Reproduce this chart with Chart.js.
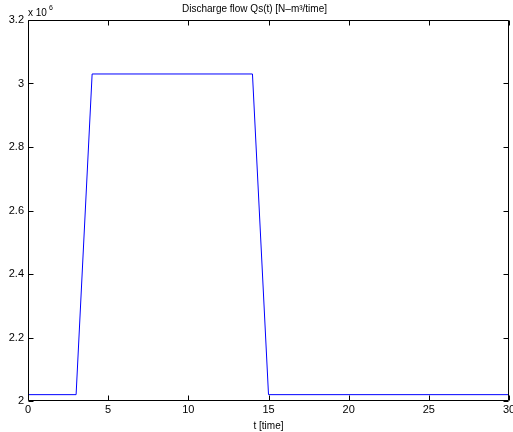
<!DOCTYPE html>
<html>
<head>
<meta charset="utf-8">
<script src="https://cdn.jsdelivr.net/npm/chart.js@4/dist/chart.umd.min.js"></script>
<style>
  html, body { margin: 0; padding: 0; background: #fff; }
  #wrap { width: 513px; height: 432px; }
</style>
</head>
<body>
<div id="wrap"><canvas id="qs-chart" width="513" height="432"></canvas></div>
<script>
// breakpoints of the discharge flow curve
const times = [0, 3, 4, 14, 15, 30];
const flows = [2.02e6, 2.02e6, 3.03e6, 3.03e6, 2.02e6, 2.02e6];
const xTicks = [0, 5, 10, 15, 20, 25, 30];
const yTicks = [2.0e6, 2.2e6, 2.4e6, 2.6e6, 2.8e6, 3.0e6, 3.2e6];

const FONT = 'Liberation Sans, Arial, Helvetica, sans-serif';

// MATLAB style box with inward ticks on all four sides, plus the exponent label
const matlabBox = {
    id: 'matlabBox',
    afterDraw(chart) {
        const c = chart.ctx, a = chart.chartArea;
        const xs = chart.scales.x, ys = chart.scales.y;
        c.save();
        c.strokeStyle = '#000';
        c.lineWidth = 1;
        const L = Math.round(a.left) + 0.5, R = Math.round(a.right) - 0.5;
        const T = Math.round(a.top) + 0.5, B = Math.round(a.bottom) - 0.5;
        c.beginPath();
        c.rect(L, T, R - L, B - T);
        c.stroke();
        c.beginPath();
        xTicks.forEach(v => {
            const px = Math.round(xs.getPixelForValue(v)) + 0.5;
            c.moveTo(px, B); c.lineTo(px, B - 5);
            c.moveTo(px, T); c.lineTo(px, T + 5);
        });
        yTicks.forEach(v => {
            const py = Math.round(ys.getPixelForValue(v)) + 0.5;
            c.moveTo(L, py); c.lineTo(L + 5, py);
            c.moveTo(R, py); c.lineTo(R - 5, py);
        });
        c.stroke();
        c.fillStyle = '#000';
        c.textBaseline = 'alphabetic';
        c.textAlign = 'left';
        c.font = '10px ' + FONT;
        c.fillText('x 10', 28, 16);
        c.font = '7px ' + FONT;
        c.fillText('6', 49, 10);
        c.restore();
    }
};

const ctx = document.getElementById('qs-chart').getContext('2d');
new Chart(ctx, {
    type: 'line',
    data: {
        datasets: [{
            data: times.map((t, i) => ({ x: t, y: flows[i] })),
            borderColor: '#0000ff',
            borderWidth: 1,
            pointRadius: 0,
            tension: 0,
            fill: false
        }]
    },
    options: {
        responsive: false,
        animation: false,
        layout: { padding: { left: 0, right: 4, top: 0, bottom: 0 } },
        plugins: {
            legend: { display: false },
            tooltip: { enabled: false },
            title: {
                display: true,
                text: 'Discharge flow Qs(t) [N\u2013m\u00b3/time]',
                color: '#000',
                font: { family: FONT, size: 10, weight: 'normal' },
                padding: { top: 3, bottom: 5 }
            }
        },
        scales: {
            x: {
                type: 'linear',
                min: 0, max: 30,
                afterBuildTicks: s => { s.ticks = xTicks.map(v => ({ value: v })); },
                afterFit: s => { s.height = 31; s.paddingLeft = 0; s.paddingRight = 0; },
                grid: { display: false, drawTicks: false },
                border: { display: false },
                ticks: { color: '#000', font: { family: FONT, size: 11 }, padding: 2, maxRotation: 0 },
                title: {
                    display: true, text: 't [time]', color: '#000',
                    font: { family: FONT, size: 10 }, padding: { top: 0, bottom: 0 }
                }
            },
            y: {
                min: 2e6, max: 3.2e6,
                afterBuildTicks: s => { s.ticks = yTicks.map(v => ({ value: v })); },
                afterFit: s => { s.width = 28; s.paddingTop = 0; s.paddingBottom = 0; },
                grid: { display: false, drawTicks: false },
                border: { display: false },
                ticks: {
                    color: '#000', font: { family: FONT, size: 11 }, padding: 4,
                    callback: v => String(+(v / 1e6).toFixed(1))
                }
            }
        }
    },
    plugins: [matlabBox]
});
</script>
</body>
</html>
